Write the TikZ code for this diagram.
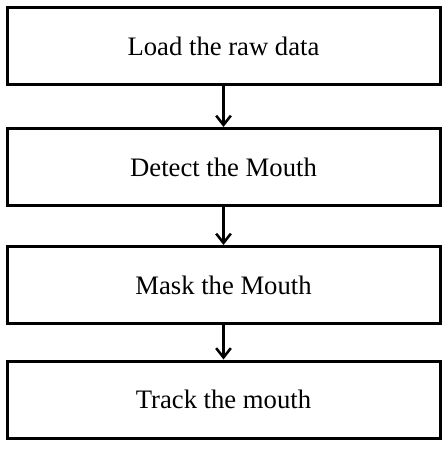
\documentclass[tikz,border=0pt]{standalone}
\usepackage{fontspec}
\setmainfont{Liberation Serif}
\usetikzlibrary{arrows.meta}

\tikzset{
    stepbox/.style={draw, line width=2.25pt, minimum width=324.75pt, minimum height=57.75pt,
        font=\fontsize{20}{24}\selectfont},
    flow/.style={line width=1.9pt, -{Straight Barb[length=7pt, width=11pt, line width=1.9pt]}}
}

\begin{document}
\begin{tikzpicture}[x=0.75pt, y=-0.75pt]
    \useasboundingbox (0,0) rectangle (447,450);
    \node[stepbox] (load) at (223.5,46) {Load the raw data};
    \node[stepbox] (detect) at (223.5,167) {Detect the Mouth};
    \node[stepbox] (mask) at (223.5,285) {Mask the Mouth};
    \node[stepbox] (track) at (223.5,399.5) {Track the mouth};
    \draw[flow] (load) -- (detect);
    \draw[flow] (detect) -- (mask);
    \draw[flow] (mask) -- (track);
\end{tikzpicture}
\end{document}
